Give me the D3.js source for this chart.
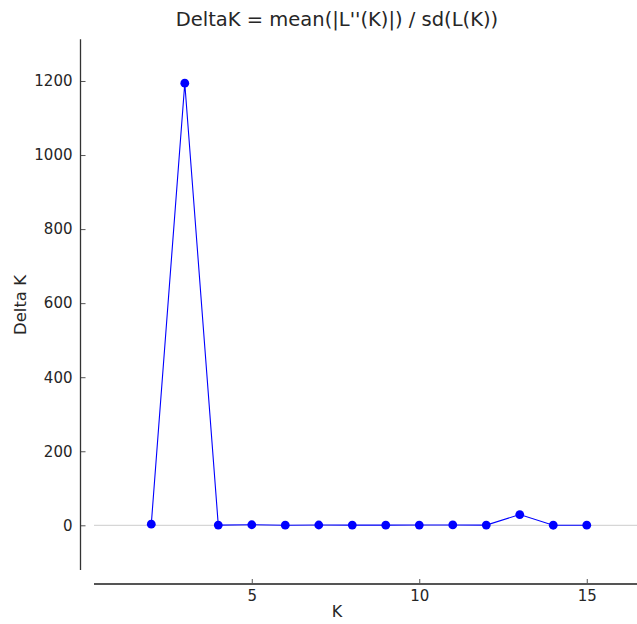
<!DOCTYPE html>
<html>
<head>
<meta charset="utf-8">
<script src="https://cdn.jsdelivr.net/npm/d3@7/dist/d3.min.js"></script>
<style>
  body { margin: 0; background: #fff; }
  text { font-family: "DejaVu Sans", sans-serif; fill: #262626; }
</style>
</head>
<body>
<div id="chart"></div>
<script>
// values
var kValues = [2, 3, 4, 5, 6, 7, 8, 9, 10, 11, 12, 13, 14, 15];
var deltaK = [3, 1194, 0.5, 1.5, 0.3, 0.8, 0.6, 0.4, 0.7, 1.0, 0.5, 29, 0.2, 0.3];
var yTicks = [0, 200, 400, 600, 800, 1000, 1200];
var xTicks = [5, 10, 15];
var titleText = "DeltaK = mean(|L''(K)|) / sd(L(K))";

var width = 637, height = 624;

var svg = d3.select("#chart")
  .append("svg")
    .attr("width", width)
    .attr("height", height);

// scales (axis spines are offset from the plot like a despined matplotlib plot)
var x = d3.scaleLinear()
  .domain([0.29, 16.5])
  .range([94, 637]);

var y = d3.scaleLinear()
  .domain([-120.7, 1312.6])
  .range([570, 39.3]);

// title
svg.append("text")
  .text(titleText)
  .attr("x", 337)
  .attr("y", 26)
  .attr("text-anchor", "middle")
  .attr("font-size", "19.5px");

// grey line at zero
svg.append("line")
  .attr("x1", 94)
  .attr("x2", width)
  .attr("y1", y(0))
  .attr("y2", y(0))
  .attr("stroke", "#cccccc")
  .attr("stroke-width", 1);

// y axis
var yAxis = svg.append("g")
  .attr("transform", "translate(80.5,0)")
  .call(d3.axisRight(y).tickValues(yTicks).tickSize(5).tickFormat(d3.format("d")));
yAxis.select(".domain").remove();
yAxis.selectAll(".tick line").attr("stroke", "#555");
yAxis.selectAll(".tick text")
  .attr("x", -8)
  .attr("text-anchor", "end")
  .attr("font-size", "15px")
  .attr("fill", "#262626");
svg.append("line")
  .attr("x1", 80.5).attr("x2", 80.5)
  .attr("y1", y.range()[1]).attr("y2", y.range()[0])
  .attr("stroke", "#333").attr("stroke-width", 1.3);

// x axis
var xAxis = svg.append("g")
  .attr("transform", "translate(0,584)")
  .call(d3.axisTop(x).tickValues(xTicks).tickSize(5));
xAxis.select(".domain").remove();
xAxis.selectAll(".tick line").attr("stroke", "#555");
xAxis.selectAll(".tick text")
  .attr("y", 17)
  .attr("dy", null)
  .attr("font-size", "15px")
  .attr("fill", "#262626");
svg.append("line")
  .attr("x1", x.range()[0]).attr("x2", x.range()[1])
  .attr("y1", 584).attr("y2", 584)
  .attr("stroke", "#555").attr("stroke-width", 2);

// axis labels
svg.append("text")
  .text("K")
  .attr("x", 337)
  .attr("y", 617)
  .attr("text-anchor", "middle")
  .attr("font-size", "16px");

svg.append("text")
  .text("Delta K")
  .attr("transform", "translate(26,305) rotate(-90)")
  .attr("text-anchor", "middle")
  .attr("font-size", "16.5px");

// line and points
var points = kValues.map(function(k, i) { return [k, deltaK[i]]; });

svg.append("path")
  .datum(points)
  .attr("fill", "none")
  .attr("stroke", "#0000ff")
  .attr("stroke-width", 1.1)
  .attr("d", d3.line()
    .x(function(d) { return x(d[0]); })
    .y(function(d) { return y(d[1]); }));

svg.selectAll("circle")
  .data(points)
  .enter()
  .append("circle")
    .attr("cx", function(d) { return x(d[0]); })
    .attr("cy", function(d) { return y(d[1]); })
    .attr("r", 4.4)
    .attr("fill", "#0000ff");
</script>
</body>
</html>
